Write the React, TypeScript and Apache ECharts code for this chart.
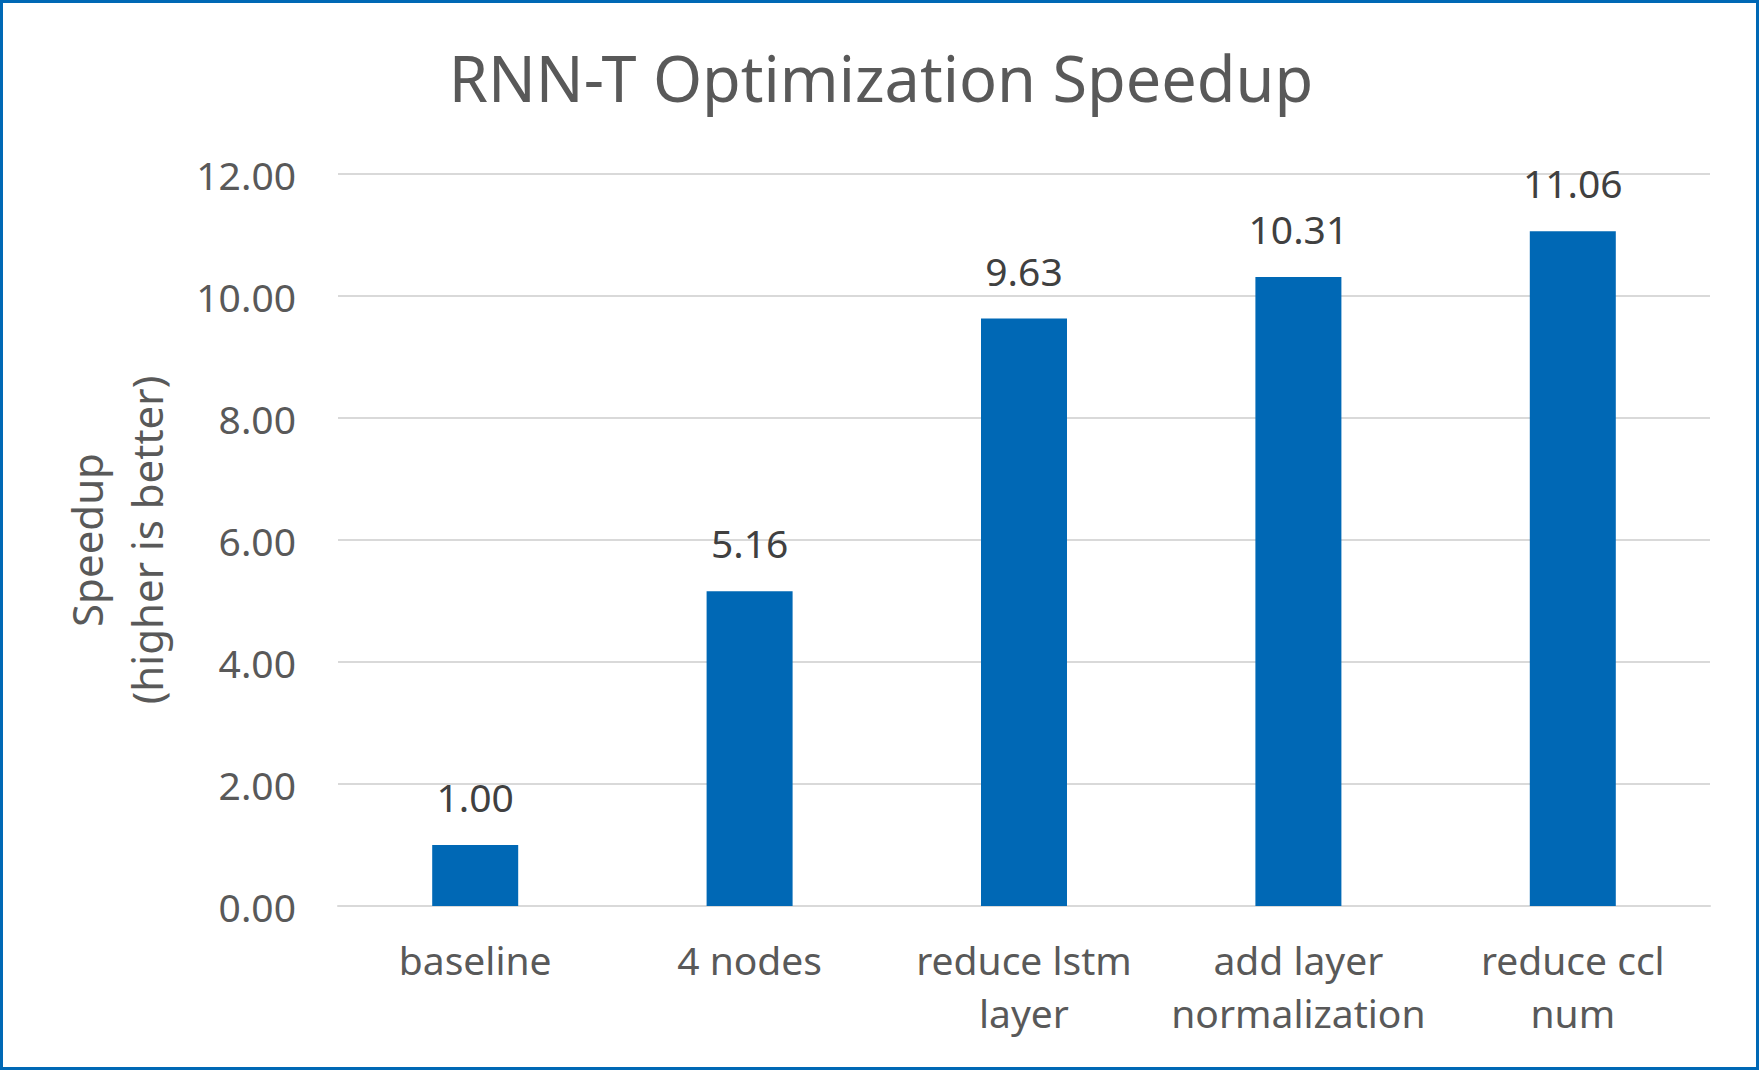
import React, { useEffect, useRef } from "react";
import * as echarts from "echarts";

const categories = ["baseline", "4 nodes", "reduce lstm\nlayer", "add layer\nnormalization", "reduce ccl\nnum"];
const speedup = [1.0, 5.16, 9.63, 10.31, 11.06];
const titleText = "RNN-T Optimization Speedup";
const yAxisName = "Speedup\n(higher is better)";

const FONT = "Noto Sans";

export default function App() {
  const ref = useRef<HTMLDivElement>(null);
  useEffect(() => {
    document.body.style.margin = "0";
    const chart = echarts.init(ref.current!, null, { renderer: "svg" });
    chart.setOption({
      animation: false,
      backgroundColor: "#ffffff",
      title: {
        text: titleText,
        left: "center",
        top: 41,
        textStyle: { fontFamily: FONT, fontSize: 63, fontWeight: "normal", color: "#595959", lineHeight: 63 },
      },
      graphic: [
        {
          type: "rect",
          shape: { x: 1.5, y: 1.5, width: 1756, height: 1067 },
          style: { fill: "none", stroke: "#0068B5", lineWidth: 3 },
          silent: true,
          z: 100,
        },
      ],
      grid: { left: 338, right: 52, top: 174, bottom: 165, containLabel: false },
      xAxis: {
        type: "category",
        data: categories,
        axisLine: { lineStyle: { color: "#D9D9D9", width: 2 } },
        axisTick: { show: false },
        axisLabel: {
          fontFamily: FONT,
          fontSize: 39,
          color: "#595959",
          lineHeight: 53,
          margin: 27,
          interval: 0,
        },
      },
      yAxis: {
        type: "value",
        min: 0,
        max: 12,
        interval: 2,
        name: yAxisName,
        nameLocation: "middle",
        nameGap: 162,
        nameRotate: 90,
        nameTextStyle: { fontFamily: FONT, fontSize: 42, color: "#595959", lineHeight: 60 },
        axisLine: { show: false },
        axisTick: { show: false },
        axisLabel: {
          fontFamily: FONT,
          fontSize: 39,
          color: "#595959",
          margin: 42,
          padding: [0, 0, 4, 0],
          formatter: (v: number) => v.toFixed(2),
        },
        splitLine: { lineStyle: { color: "#D9D9D9", width: 2 } },
      },
      series: [
        {
          type: "bar",
          data: speedup,
          barWidth: 86,
          itemStyle: { color: "#0068B5" },
          label: {
            show: true,
            position: "top",
            distance: 29,
            fontFamily: FONT,
            fontSize: 39,
            color: "#404040",
            formatter: (p: any) => Number(p.value).toFixed(2),
          },
        },
      ],
    });
    return () => chart.dispose();
  }, []);
  return <div ref={ref} style={{ width: 1762, height: 1071 }} />;
}
